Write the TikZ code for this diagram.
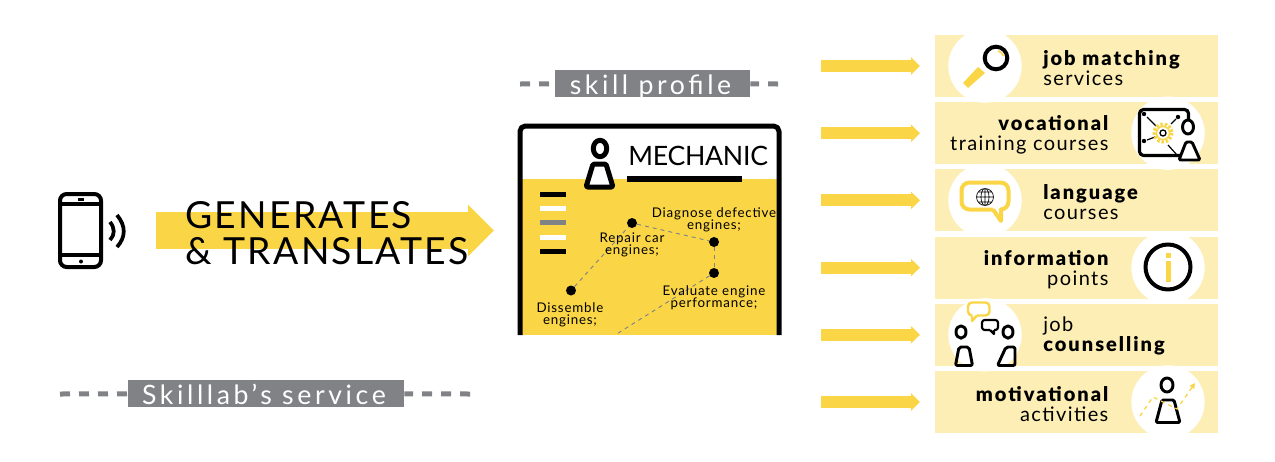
\documentclass[tikz,border=0pt]{standalone}
\usepackage{fontspec}
\setmainfont{Lato}
\newfontfamily\heavyfont{Lato Black}
\usetikzlibrary{positioning,arrows.meta}
\definecolor{skyellow}{HTML}{FAD647}
\definecolor{skpale}{HTML}{FDEEB6}
\definecolor{skgray}{HTML}{808285}
\newcommand{\heavy}[1]{{\heavyfont\addfontfeature{LetterSpace=10}#1}}
\tikzset{
  panel/.style = {rectangle, fill=skpale, minimum width=212.25pt, minimum height=46.5pt, inner sep=0pt, outer sep=0pt},
  disc/.style = {circle, fill=white, minimum size=55pt, inner sep=0pt},
  paneltext/.style = {inner sep=0pt, font=\fontsize{15}{15}\selectfont\addfontfeature{LetterSpace=7}},
  arrow/.style = {line width=9pt, draw=skyellow, -{Triangle[length=6.75pt,width=12.75pt]}, shorten >=11.25pt},
  bigarrow/.style = {line width=27.75pt, draw=skyellow, -{Triangle[length=19.5pt,width=37.5pt]}},
  tag/.style = {rectangle, fill=skgray, text=white, inner sep=0pt, text height=18.05pt, text depth=2.2pt,
                font=\fontsize{20}{20}\selectfont\addfontfeature{LetterSpace=13.5}},
  tagline/.style = {draw=skgray, line width=3.75pt, dash pattern=on 7.5pt off 6.75pt},
  dot/.style = {circle, fill=black, minimum size=7.5pt, inner sep=0pt},
  link/.style = {draw=skgray, line width=.7pt, dashed},
  skill/.style = {inner sep=0pt, align=center, font=\fontsize{10}{9.2}\selectfont\addfontfeature{LetterSpace=6}},
  icon/.style = {draw=black, line width=3pt, line join=round},
  thin icon/.style = {draw=black, line width=2.2pt, line join=round},
  yicon/.style = {draw=skyellow, line width=3pt, line join=round}
}
\begin{document}
\begin{tikzpicture}[x=.75pt, y=-.75pt, node distance=3.9pt]
\useasboundingbox (0,0) rectangle (1275,461);

% offers on the right
\node (p1) [panel] at (1076.5,66) {};
\node (p2) [panel, below=of p1] {};
\node (p3) [panel, below=of p2] {};
\node (p4) [panel, below=of p3] {};
\node (p5) [panel, below=of p4] {};
\node (p6) [panel, below=of p5] {};

\foreach \i in {1,3,5} \node (c\i) [disc] at ([xshift=37.5pt]p\i.west) {};
\foreach \i in {2,4,6} \node (c\i) [disc] at ([xshift=-37.5pt]p\i.east) {};

\foreach \i in {1,...,6} {
  \coordinate (s\i) at ([xshift=-85.5pt]p\i.west);
  \draw[arrow] (s\i) -- (p\i);
}

\node (t1) [paneltext, anchor=west, align=left] at ([xshift=81pt,yshift=-1.2pt]p1.west) {\heavy{job matching}\\services};
\node (t2) [paneltext, anchor=east, align=right] at ([xshift=-82pt,yshift=-1.2pt]p2.east) {\heavy{vocational}\\training courses};
\node (t3) [paneltext, anchor=west, align=left] at ([xshift=81pt,yshift=-1.2pt]p3.west) {\heavy{language}\\courses};
\node (t4) [paneltext, anchor=east, align=right] at ([xshift=-82pt,yshift=-1.2pt]p4.east) {\heavy{information}\\points};
\node (t5) [paneltext, anchor=west, align=left] at ([xshift=81pt,yshift=-1.2pt]p5.west) {job\\\heavy{counselling}};
\node (t6) [paneltext, anchor=east, align=right] at ([xshift=-82pt,yshift=-1.2pt]p6.east) {\heavy{motivational}\\activities};

% magnifier
\draw[icon] (996,58) circle (11.3);
\draw[yicon, line width=1.2pt] (998,51) .. controls (1000.5,51.5) and (1002.5,53) .. (1003.5,56);
\fill[skyellow] (978,67) -- (985,73) -- (968,88) -- (963,83) -- cycle;

% training board
\draw[icon, rounded corners=3pt, line width=2.4pt] (1182,155.5) -- (1139.5,155.5) -- (1139.5,109.5) -- (1188.5,109.5) -- (1188.5,120);
\foreach \x/\y in {1144/114, 1178/117, 1144/141} \fill (\x,\y) circle (2.2);
\draw[black, line width=.9pt] (1147,117) -- (1156,126) (1176,119) -- (1171,124) (1147,140) -- (1155,137) (1168,145) -- (1177,155);
\draw[skyellow, line width=3pt, dash pattern=on 1.8pt off 1.3pt] (1163,133) circle (8.5);
\draw[skyellow, line width=1pt] (1163,133) circle (6.5);
\draw[black, line width=1pt] (1163,133) circle (3);
\draw[thin icon, fill=white] (1188,127) ellipse (5.5 and 7);
\draw[thin icon, fill=white, rounded corners=1pt] (1179,160) -- (1186,142) -- (1192,142) -- (1200,160) -- cycle;

% language bubble
\draw[yicon, rounded corners=6pt] (993,209.5) -- (961.5,209.5) -- (961.5,182.5) -- (1008.5,182.5) -- (1008.5,209.5) -- (1001,209.5);
\draw[yicon] (993,209.5) -- (1001,221) -- (1001,209.5);
\draw[black, line width=.5pt] (985,197) circle (8.5) (976.5,197) -- (993.5,197) (978,192) -- (992,192) (978,202) -- (992,202) (985,188.5) -- (985,205.5) (985,197) ellipse (4 and 8.5);

% information sign
\draw[icon] (1168,267) circle (22.5);
\fill[skyellow] (1165.5,253) rectangle (1170.5,257.5);
\fill[skyellow] (1165.5,261) rectangle (1170.5,282);

% counselling
\draw[yicon, line width=1.8pt, rounded corners=3pt] (972,315.5) -- (968,315.5) -- (968,302.5) -- (989.5,302.5) -- (989.5,315.5) -- (977,315.5);
\draw[yicon, line width=1.8pt] (972,315.5) -- (972,321) -- (977,315.5);
\draw[thin icon, line width=1.6pt, rounded corners=2pt] (990,330) -- (982,330) -- (982,320) -- (998,320) -- (998,330) -- (994,330);
\draw[thin icon, line width=1.6pt] (990,330) -- (994,334) -- (994,330);
\draw[thin icon] (961,332) ellipse (5 and 6.2);
\draw[thin icon] (1008,332) ellipse (5 and 6.2);
\draw[thin icon, rounded corners=1.5pt] (955.5,365.5) -- (959,347) -- (969,347) -- (972.5,365.5) -- cycle;
\draw[thin icon, rounded corners=1.5pt] (1015,365.5) -- (1015,347) -- (1006,347) -- (997.5,365.5) -- cycle;

% motivation
\draw[thin icon] (1167,385) ellipse (6 and 7);
\draw[thin icon, rounded corners=1pt] (1156,422.5) -- (1162,400) -- (1174,400) -- (1180,422.5) -- cycle;
\draw[skyellow, line width=1pt, dashed, -{Triangle[length=4pt,width=4pt]}] (1140,416) -- (1153,397) -- (1177,409) -- (1195,383);

% phone
\draw[icon, rounded corners=5pt] (60,194) rectangle (101,267);
\draw[icon] (60,204) -- (101,204) (60,255) -- (101,255);
\fill (78,197.5) rectangle (84,201);
\fill (81,261.5) circle (2);
\draw[icon, line width=2.8pt] (110,222) .. controls (115,228) and (115,235) .. (110,240);
\draw[icon, line width=2.8pt] (117,215) .. controls (126,226) and (126,237) .. (117,247);

% big arrow
\coordinate (gstart) at (156,230.5);
\coordinate (gend) at (494,230.5);
\draw[bigarrow] (gstart) -- (gend);
\node (gen) [inner sep=0pt, anchor=west, align=left, font=\fontsize{28}{27}\selectfont\addfontfeature{LetterSpace=6}] at (185,233) {GENERATES\\\& TRANSLATES};

% card
\fill[skyellow] (520,179) rectangle (779,335);
\draw[icon, line width=3.75pt, rounded corners=4pt] (520,335) -- (520,126) -- (779,126) -- (779,335);
\draw[icon, line width=3.75pt] (600,148.5) ellipse (6.7 and 8.2);
\draw[icon, line width=3.75pt, fill=white, rounded corners=1pt] (586,187) -- (593,164) -- (606,164) -- (613,187) -- cycle;
\node (job) [inner sep=0pt, anchor=base west, font=\fontsize{20}{20}\selectfont\addfontfeature{LetterSpace=-1}] at (628,165) {MECHANIC};
\fill (627,176) rectangle (742,182);
\foreach \y/\c in {194/black, 208/white, 222.5/skgray, 237/white, 251/black}
  \fill[\c] (540,\y-2.5) rectangle (566,\y+2.5);

\node (dis) [dot] at (571,290.5) {};
\node (rep) [dot] at (632,223) {};
\node (dia) [dot] at (714,242) {};
\node (eva) [dot] at (714,273) {};
\coordinate (more) at (615,335);
\draw[link] (dis) -- (rep);
\draw[link] (rep) -- (dia);
\draw[link] (dia) -- (eva);
\draw[link] (eva) -- (more);
\node (tdia) [skill] at (714,219.5) {Diagnose defective\\engines;};
\node (trep) [skill] at (632,244.5) {Repair car\\engines;};
\node (tdis) [skill] at (570,314.5) {Dissemble\\engines;};
\node (teva) [skill] at (714,297.5) {Evaluate engine\\performance;};

% tags
\node (profile) [tag, minimum width=146.25pt] at (652.5,83.5) {skill profile\hspace*{3pt}};
\coordinate (pl) at (520,84);
\coordinate (pr) at (778,84);
\draw[tagline] (pl) -- (profile);
\draw[tagline] (pr) -- (profile);
\node (service) [tag, minimum width=207pt] at (266,393.5) {Skilllab's service\hspace*{3pt}};
\coordinate (sl) at (60,394);
\coordinate (sr) at (470,394);
\draw[tagline] (sl) -- (service);
\draw[tagline] (sr) -- (service);
\end{tikzpicture}
\end{document}
